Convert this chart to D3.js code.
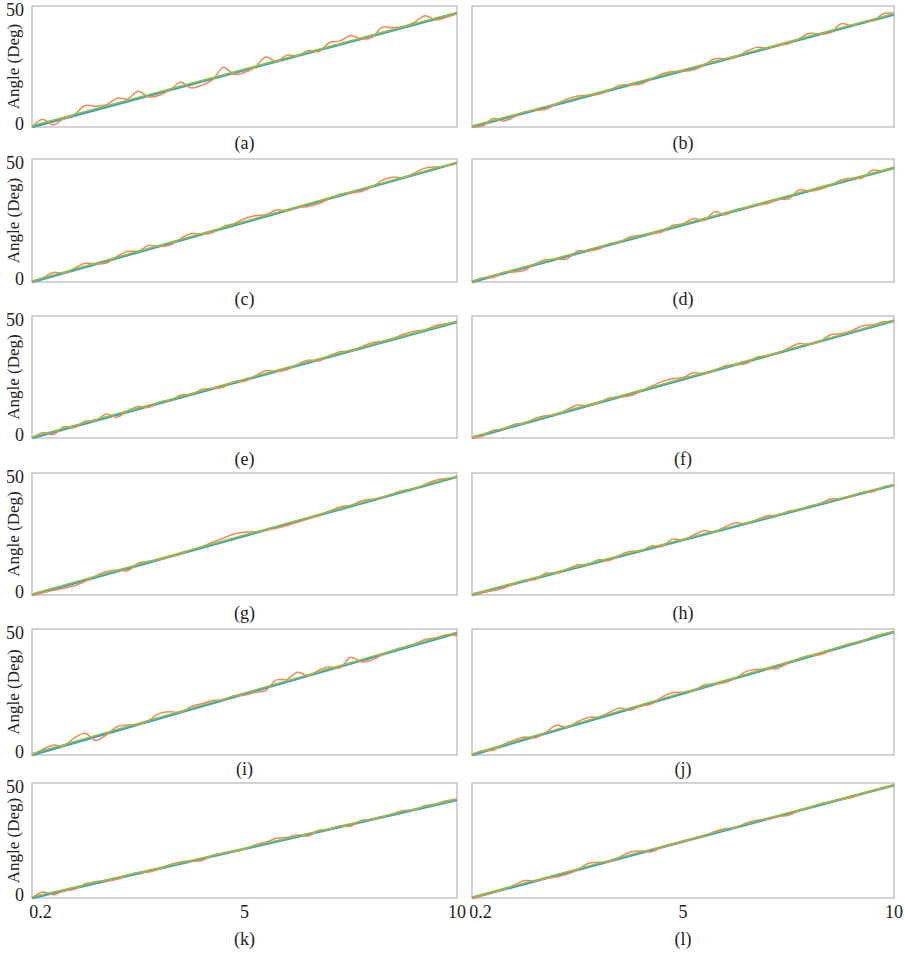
<!DOCTYPE html>
<html>
<head>
<meta charset="utf-8">
<script src="https://cdn.jsdelivr.net/npm/d3@7"></script>
<style>
  body { margin: 0; background: #fff; }
  svg text { font-family: "Times New Roman", "Liberation Serif", Times, "DejaVu Serif", serif; }
</style>
</head>
<body>
<svg id="chart" width="905" height="954"></svg>
<script>
// DATA //
const panels = ["(a)", "(b)", "(c)", "(d)", "(e)", "(f)", "(g)", "(h)", "(i)", "(j)", "(k)", "(l)"]
const ts = [0, 0.25, 0.5, 0.75, 1, 1.25, 1.5, 1.75, 2, 2.25, 2.5, 2.75, 3, 3.25, 3.5, 3.75, 4, 4.25, 4.5, 4.75,
  5, 5.25, 5.5, 5.75, 6, 6.25, 6.5, 6.75, 7, 7.25, 7.5, 7.75, 8, 8.25, 8.5, 8.75, 9, 9.25, 9.5, 9.75, 10]

// straight references: angle at t=0 and t=10
const blueEnds  = [[0, 47], [0, 46.5], [0, 48.4], [0, 46.3], [0, 47.5], [0, 48], [0, 48.4], [0, 45], [0, 48.4], [0, 48.8], [0, 42.6], [0, 49]]
const greenEnds = [[0.5, 47.3], [0.4, 46.8], [0.4, 48.7], [0.4, 46.6], [0.4, 47.8], [0.4, 48.3], [0.4, 48.7], [0.4, 45.3], [0.5, 48.7], [0.4, 49.1], [0.4, 42.9], [0.4, 49.3]]

// measured (orange)
const measA = [0, 3.2, 0.9, 3.5, 5.2, 8.9, 8.6, 9.2, 11.9, 11.6, 14.8, 12.4, 13.1, 15.3, 18.5, 16.1, 17.3, 19.5, 24.7, 21.8, 22.5, 24.7, 28.9, 27.0, 29.7, 29.4, 31.6, 31.2, 34.9, 35.6, 37.8, 36.4, 37.1, 41.3, 41.0, 41.6, 43.3, 46.0, 44.2, 45.3, 47]
const measB = [0, 0.4, 3.5, 2.5, 4.2, 6.3, 7.0, 7.3, 9.6, 11.5, 12.8, 13.1, 13.5, 15.1, 17.3, 17.4, 17.8, 19.8, 21.9, 22.9, 23.0, 23.6, 25.6, 28.2, 28.2, 28.8, 31.2, 32.9, 32.6, 33.7, 34.4, 36.5, 38.7, 38.4, 39.0, 42.7, 41.9, 43.5, 43.9, 46.8, 47.0]
const measC = [0, 1.7, 3.9, 3.6, 5.6, 7.6, 7.3, 7.7, 10.4, 12.4, 12.6, 14.8, 14.5, 15.0, 17.7, 19.7, 19.4, 20.1, 22.5, 23.7, 25.7, 26.9, 27.4, 29.3, 29.0, 30.3, 30.7, 31.9, 33.9, 35.8, 36.3, 36.8, 38.7, 41.4, 42.6, 42.4, 44.3, 46.3, 46.7, 47.2, 48.4]
const measD = [0, 1.7, 1.8, 4.0, 4.1, 4.8, 7.5, 9.1, 9.3, 9.4, 12.6, 12.7, 13.4, 15.6, 16.2, 18.4, 19.0, 19.7, 20.3, 23.0, 23.7, 25.8, 25.0, 28.6, 27.3, 29.4, 30.1, 31.3, 31.9, 33.6, 33.7, 37.4, 37.0, 37.7, 39.4, 41.5, 42.2, 42.3, 45.5, 45.1, 46.8]
const measE = [0, 2.2, 1.4, 4.6, 4.3, 6.9, 7.1, 9.8, 8.5, 11.2, 12.9, 12.6, 14.8, 15.4, 17.6, 17.8, 20.0, 20.2, 20.9, 23.1, 23.3, 25.4, 27.6, 27.3, 28.0, 30.2, 31.9, 31.6, 33.8, 35.4, 35.6, 37.3, 39.0, 39.7, 40.9, 42.6, 43.8, 44.4, 46.1, 46.8, 47.5]
const measF = [0, 0.8, 3.2, 3.6, 5.6, 6.0, 8.0, 9.2, 9.6, 11.6, 13.5, 13.2, 14.4, 16.4, 16.8, 17.3, 19.2, 21.2, 23.1, 24.3, 24.8, 26.7, 26.4, 27.6, 29.6, 30.0, 30.5, 33.2, 33.6, 34.8, 36.8, 38.7, 38.4, 39.6, 42.3, 42.8, 44.0, 45.9, 46.4, 47.6, 48.0]
const measG = [0, 0.9, 1.9, 2.8, 3.8, 5.6, 7.8, 9.5, 10.2, 9.9, 13.1, 13.8, 14.5, 15.7, 16.9, 18.5, 19.9, 21.6, 23.3, 25.0, 25.7, 25.9, 26.6, 27.3, 28.5, 29.8, 31.2, 32.7, 34.4, 36.1, 36.8, 38.5, 39.2, 39.9, 41.6, 42.9, 43.6, 45.3, 47.0, 47.7, 48.4]
const measH = [0, 1.1, 1.8, 2.9, 4.5, 6.1, 6.3, 8.9, 9.0, 10.6, 12.3, 12.4, 14.5, 14.1, 16.3, 17.9, 18.0, 20.1, 19.8, 22.9, 22.5, 24.6, 26.3, 25.9, 28.0, 29.6, 29.3, 30.9, 32.5, 32.6, 34.3, 34.9, 36.5, 37.6, 39.3, 39.4, 40.5, 42.1, 42.3, 44.4, 45.0]
const measI = [0, 2.2, 3.9, 3.6, 6.8, 8.6, 5.8, 8.0, 11.2, 11.9, 12.1, 13.8, 16.5, 17.2, 16.9, 19.2, 20.4, 21.6, 21.8, 23.5, 23.7, 24.9, 25.6, 29.8, 30.0, 32.8, 31.5, 33.7, 34.9, 34.6, 38.8, 37.0, 37.7, 39.9, 41.6, 42.9, 44.1, 45.8, 46.5, 47.7, 47.4]
const measJ = [0, 1.7, 1.9, 4.2, 5.9, 7.1, 6.8, 9.0, 11.8, 11.0, 13.2, 14.9, 15.1, 16.9, 18.6, 17.8, 19.5, 20.2, 23.0, 24.7, 24.9, 25.6, 27.8, 28.1, 28.8, 30.5, 33.2, 33.9, 34.2, 34.4, 36.6, 38.3, 39.5, 39.8, 41.5, 43.2, 44.4, 45.1, 46.9, 48.1, 48.8]
const measK = [0, 2.6, 1.4, 3.2, 3.8, 6.1, 7.1, 7.5, 8.1, 10.0, 11.1, 11.3, 12.8, 14.6, 15.7, 16.0, 16.3, 18.6, 19.6, 20.2, 21.3, 23.1, 24.2, 26.0, 26.3, 27.4, 26.9, 29.5, 29.8, 31.3, 31.2, 33.8, 34.1, 35.2, 36.7, 38.0, 38.3, 40.2, 40.9, 42.3, 43.1]
const measL = [0, 1.2, 2.5, 3.7, 5.7, 7.6, 7.4, 8.6, 9.1, 10.3, 12.3, 15.0, 15.5, 15.9, 17.9, 19.9, 20.4, 20.1, 22.1, 23.3, 24.5, 25.7, 27.0, 28.9, 30.2, 30.6, 32.6, 33.8, 34.3, 35.5, 36.0, 38.0, 39.2, 40.9, 41.7, 42.9, 43.7, 45.3, 46.6, 47.8, 49.0]
const measured = [measA, measB, measC, measD, measE, measF, measG, measH, measI, measJ, measK, measL]

const xTicks = [0.2, 5, 10]
const yTicks = [0, 50]

// LAYOUT //
const cols = [[32, 457], [472, 894]]
const rows = [
  {top: 6,   bottom: 127, label: 149},
  {top: 159, bottom: 282, label: 305},
  {top: 316, bottom: 438, label: 465},
  {top: 473, bottom: 595, label: 619},
  {top: 629, bottom: 755, label: 775},
  {top: 783, bottom: 898, label: 945}
]

const COLORS = {orange: "#f7865c", blue: "#3d9ad6", green: "#86c440", frame: "#c4c4c4", text: "#222"}

const svg = d3.select("#chart")

panels.forEach((name, i) => {
  const r = rows[Math.floor(i / 2)]
  const c = cols[i % 2]
  const isLast = Math.floor(i / 2) === rows.length - 1

  const x = d3.scaleLinear().domain([0, 10]).range(c)
  const y = d3.scaleLinear().domain([0, 50]).range([r.bottom, r.top])

  const g = svg.append("g")

  // frame
  g.append("rect")
    .attr("x", c[0]).attr("y", r.top)
    .attr("width", c[1] - c[0]).attr("height", r.bottom - r.top)
    .attr("fill", "none")
    .attr("stroke", COLORS.frame)
    .attr("stroke-width", 1.5)

  const straight = d3.line().x(d => x(d[0])).y(d => y(d[1]))
  const wiggly = d3.line().x(d => x(d[0])).y(d => y(d[1])).curve(d3.curveCatmullRom)

  // blue reference
  g.append("path")
    .datum([[0, blueEnds[i][0]], [10, blueEnds[i][1]]])
    .attr("d", straight)
    .attr("fill", "none")
    .attr("stroke", COLORS.blue)
    .attr("stroke-width", 2.4)

  // orange measured
  g.append("path")
    .datum(ts.map((t, k) => [t, measured[i][k]]))
    .attr("d", wiggly)
    .attr("fill", "none")
    .attr("stroke", COLORS.orange)
    .attr("stroke-width", 1.5)

  // green fit
  g.append("path")
    .datum([[0, greenEnds[i][0]], [10, greenEnds[i][1]]])
    .attr("d", straight)
    .attr("fill", "none")
    .attr("stroke", COLORS.green)
    .attr("stroke-width", 1.6)

  // y axis labels on left column
  if (i % 2 === 0) {
    g.selectAll("text.ytick").data(yTicks).enter().append("text")
      .attr("class", "ytick")
      .attr("x", 24)
      .attr("y", d => d === 50 ? y(d) + 10 : y(d) + 3)
      .attr("text-anchor", "end")
      .attr("font-size", 18)
      .attr("fill", COLORS.text)
      .text(d => d)

    g.append("text")
      .attr("transform", `translate(19, ${(r.top + r.bottom) / 2}) rotate(-90)`)
      .attr("text-anchor", "middle")
      .attr("font-size", 17)
      .attr("fill", COLORS.text)
      .text("Angle (Deg)")
  }

  // x axis labels on bottom row
  if (isLast) {
    g.selectAll("text.xtick").data(xTicks).enter().append("text")
      .attr("class", "xtick")
      .attr("x", d => x(d))
      .attr("y", 918)
      .attr("text-anchor", "middle")
      .attr("font-size", 18)
      .attr("fill", COLORS.text)
      .text(d => d)
  }

  // panel label
  g.append("text")
    .attr("x", (c[0] + c[1]) / 2)
    .attr("y", r.label)
    .attr("text-anchor", "middle")
    .attr("font-size", 18)
    .attr("fill", COLORS.text)
    .text(name)
})
</script>
</body>
</html>
